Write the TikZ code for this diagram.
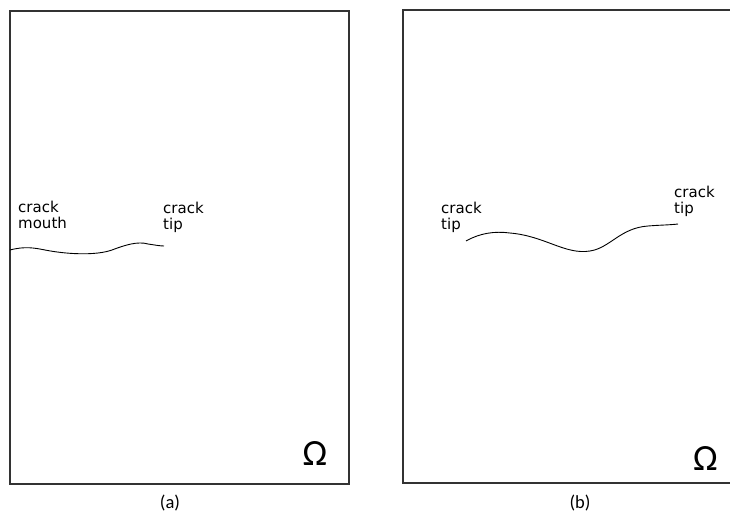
\documentclass[tikz,border=0pt]{standalone}
\usepackage{fontspec}
\setmainfont{DejaVu Sans}
\newfontfamily\calfont{Carlito}
\begin{document}
\begin{tikzpicture}[x=1pt,y=-1pt,
  regionbox/.style={draw=black!80,line width=1.4pt},
  crackline/.style={draw=black,line width=0.9pt},
  lbl/.style={font=\fontsize{15}{16}\selectfont,align=left,anchor=base west,inner sep=0pt},
  omegalbl/.style={font=\calfont\fontsize{37}{37}\selectfont,inner sep=0pt},
  captionlbl/.style={font=\calfont\fontsize{18.5}{18.5}\selectfont,inner sep=0pt}]
\useasboundingbox (0,0) rectangle (730,519);
\begin{scope}
\clip (0,0) rectangle (730,519);
% domains
\draw[regionbox] (10,11) rectangle (349,484);
\draw[regionbox] (403,10) rectangle (760,483);
\end{scope}
% edge crack (a)
\coordinate (mouth) at (10,250);
\coordinate (tipA) at (164,246);
\draw[crackline] (mouth) .. controls (25,246) and (35,248) .. (45,250)
  .. controls (65,254) and (95,256) .. (112,250)
  .. controls (125,245) and (138,241) .. (148,244)
  .. controls (155,245) and (160,246) .. (tipA);
% interior crack (b)
\coordinate (tipL) at (466,241);
\coordinate (tipR) at (678,224);
\draw[crackline] (tipL) .. controls (480,233) and (495,231) .. (510,233)
  .. controls (545,236) and (565,255) .. (590,251)
  .. controls (610,248) and (620,228) .. (648,226)
  .. controls (660,225) and (670,225) .. (tipR);
% labels (anchored at the baseline of the second line)
\node[lbl] (lm) at (18,228) {crack\\mouth};
\node[lbl] (lta) at (163,229) {crack\\tip};
\node[lbl] (ltl) at (441,229) {crack\\tip};
\node[lbl] (ltr) at (674,213) {crack\\tip};
\node[omegalbl] (oa) at (315,453) {Ω};
\node[omegalbl] (ob) at (705.5,458) {Ω};
\node[captionlbl] (ca) at (170,503) {(a)};
\node[captionlbl] (cb) at (580,503) {(b)};
\end{tikzpicture}
\end{document}
